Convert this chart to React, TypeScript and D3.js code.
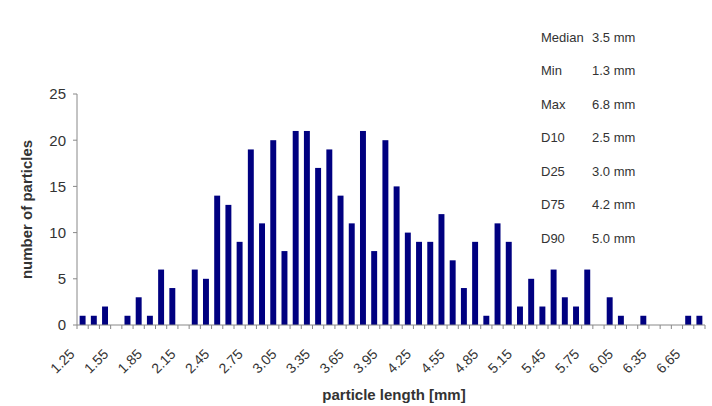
import React from "react";
import * as d3 from "d3";

const categories: string[] = [
  "1.25","1.35","1.45","1.55","1.65","1.75","1.85","1.95","2.05","2.15",
  "2.25","2.35","2.45","2.55","2.65","2.75","2.85","2.95","3.05","3.15",
  "3.25","3.35","3.45","3.55","3.65","3.75","3.85","3.95","4.05","4.15",
  "4.25","4.35","4.45","4.55","4.65","4.75","4.85","4.95","5.05","5.15",
  "5.25","5.35","5.45","5.55","5.65","5.75","5.85","5.95","6.05","6.15",
  "6.25","6.35","6.45","6.55","6.65","6.75",
];
const counts: number[] = [
  1,1,2,0,1,3,1,6,4,0,
  6,5,14,13,9,19,11,20,8,21,
  21,17,19,14,11,21,8,20,15,10,
  9,9,12,7,4,9,1,11,9,2,
  5,2,6,3,2,6,0,3,1,0,
  1,0,0,0,1,1,
];
const yTicks: number[] = [0, 5, 10, 15, 20, 25];
const statLabels: string[] = ["Median", "Min", "Max", "D10", "D25", "D75", "D90"];
const statValues: string[] = ["3.5 mm", "1.3 mm", "6.8 mm", "2.5 mm", "3.0 mm", "4.2 mm", "5.0 mm"];

export default function App() {
  const W = 712, H = 406;
  const left = 77, right = 705, top = 94, bottom = 325;
  const x = d3.scaleBand<string>().domain(categories).range([left, right]).paddingInner(0.47).paddingOuter(0.235);
  const y = d3.scaleLinear().domain([0, 25]).range([bottom, top]);
  const font = "'Liberation Sans', Arial, sans-serif";
  const boundaries = d3.range(categories.length + 1).map((i) => left + i * ((right - left) / categories.length));
  const labelled = categories.filter((_, i) => i % 3 === 0);
  return (
    <svg width={W} height={H} style={{ position: "absolute", left: 0, top: 0, background: "#fff" }} fontFamily={font}>
      {categories.map((c, i) => (
        <rect key={c} x={x(c)!} y={y(counts[i])} width={x.bandwidth()} height={bottom - y(counts[i])} fill="#000080" />
      ))}
      <line x1={left} x2={left} y1={top} y2={bottom} stroke="#888" strokeWidth={1} />
      {yTicks.map((t) => (
        <g key={t}>
          <line x1={left - 4} x2={left} y1={y(t)} y2={y(t)} stroke="#888" />
          <text x={left - 11} y={y(t)} dy="0.36em" textAnchor="end" fontSize={15} fill="#333">{t}</text>
        </g>
      ))}
      <line x1={left} x2={right} y1={bottom} y2={bottom} stroke="#888" strokeWidth={1} />
      {boundaries.map((b, i) => (
        <line key={i} x1={b} x2={b} y1={bottom} y2={bottom + 4} stroke="#888" />
      ))}
      {labelled.map((c) => {
        const cx = x(c)! + x.bandwidth() / 2 - 7;
        const cy = bottom + 30;
        return (
          <text key={c} transform={`translate(${cx},${cy}) rotate(-45)`} textAnchor="end" fontSize={14} fill="#333">{c}</text>
        );
      })}
      <text x={394} y={400} textAnchor="middle" fontSize={15} fontWeight="bold" fill="#333">particle length [mm]</text>
      <text transform={`translate(32,${(top + bottom) / 2}) rotate(-90)`} textAnchor="middle" fontSize={15} fontWeight="bold" fill="#333">number of particles</text>
      {statLabels.map((s, i) => (
        <g key={s}>
          <text x={541} y={37 + i * 33.5} dy="0.36em" fontSize={13} fill="#333">{s}</text>
          <text x={592} y={37 + i * 33.5} dy="0.36em" fontSize={13} fill="#333">{statValues[i]}</text>
        </g>
      ))}
    </svg>
  );
}
